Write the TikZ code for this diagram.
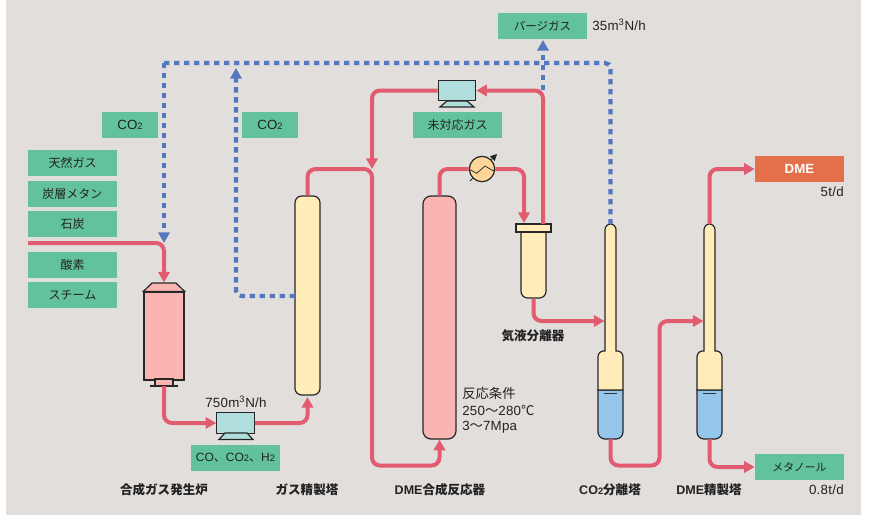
\documentclass[tikz,border=0pt]{standalone}
\usepackage{fontspec}
\setmainfont{Liberation Sans}
\newfontfamily\jp{Noto Sans CJK JP}
\newfontfamily\jpb{Noto Sans CJK JP Medium}
\usetikzlibrary{arrows.meta,calc}
\definecolor{bgc}{HTML}{E2DEDC}
\definecolor{gbx}{HTML}{62C29D}
\definecolor{redl}{HTML}{E05C6E}
\definecolor{bluel}{HTML}{5478C0}
\definecolor{yel}{HTML}{FFECB8}
\definecolor{pnk}{HTML}{FAB4B2}
\definecolor{tealc}{HTML}{B0DEDC}
\definecolor{org}{HTML}{E3704A}
\definecolor{liq}{HTML}{94C6EC}
\definecolor{htr}{HTML}{FFD69A}
\definecolor{ink}{HTML}{222222}
\newcommand{\subtwo}{{\fontsize{7pt}{7pt}\selectfont 2}}
\tikzset{
 gbox/.style={fill=gbx,minimum width=66.75pt,minimum height=19.5pt,inner sep=0pt,font=\fontsize{9pt}{10pt}\selectfont\jp,text=ink},
 cbox/.style={gbox,minimum width=42pt},
 lab/.style={inner sep=0pt,font=\fontsize{9.4pt}{10pt}\selectfont\bfseries,text=ink},
 note/.style={inner sep=0pt,font=\fontsize{10pt}{10pt}\selectfont\addfontfeature{LetterSpace=2},text=ink},
 redline/.style={draw=redl,line width=3pt,rounded corners=6pt},
 redarrow/.style={redline,-{Triangle[length=8pt,width=8.5pt]}},
 blueline/.style={draw=bluel,line width=3.2pt,dash pattern=on 4pt off 3.5pt,rounded corners=4pt},
 bluearrow/.style={blueline,-{Triangle[length=8pt,width=8.5pt,sep=0pt]}},
 vessel/.style={draw=black!85,line width=.9pt,inner sep=0pt},
 comp/.style={vessel,fill=tealc,minimum width=28pt,minimum height=15.2pt},
}
\begin{document}
\begin{tikzpicture}[x=0.75pt,y=-0.75pt]
\useasboundingbox (0,0) rectangle (869,515);
\fill[bgc] (6,0) rectangle (861,515);
% boxes
\node[gbox] (gas) at (72.5,163) {天然ガス};
\node[gbox] (cbm) at (72.5,194) {炭層メタン};
\node[gbox] (coal) at (72.5,224) {石炭};
\node[gbox] (oxy) at (72.5,265) {酸素};
\node[gbox] (steam) at (72.5,295) {スチーム};
\node[cbox] (co2a) at (130,125) {\fontsize{10pt}{10pt}\selectfont\rmfamily CO\subtwo};
\node[cbox] (co2b) at (270,125) {\fontsize{10pt}{10pt}\selectfont\rmfamily CO\subtwo};
\node[gbox] (syn) at (235.5,458) {\rmfamily CO{\jp 、}CO\subtwo{\jp 、}H\subtwo};
\node[gbox] (purge) at (542.5,26) {\fontsize{8.6pt}{10pt}\selectfont パージガス};
\node[gbox] (unr) at (457.5,125) {未対応ガス};
\node[gbox,fill=org,text=white] (dme) at (799.5,169) {\fontsize{10pt}{10pt}\selectfont\rmfamily\bfseries DME};
\node[gbox] (meoh) at (799.5,467) {\fontsize{8.2pt}{10pt}\selectfont メタノール};
% coordinates
\coordinate (ftop) at (164,282.5);
\coordinate (fbot) at (164,386);
\coordinate (capout) at (543,224);
\coordinate (feed) at (28,243);
\coordinate (tatop) at (610.5,224);
\coordinate (tabot) at (610.5,439);
\coordinate (tain) at (604.5,321);
\coordinate (tbtop) at (709.5,224);
\coordinate (tbbot) at (709.5,439);
\coordinate (tbin) at (703.5,321);
\coordinate (capin) at (524,223);
\coordinate (colin) at (307.5,397);
% vessels
\node[vessel,fill=pnk,minimum width=30pt,minimum height=66pt] (furn) at (164,336) {};
\filldraw[vessel,fill=pnk] (furn.north west) -- (152,283) -- (176,283) -- (furn.north east) -- cycle;
\filldraw[vessel,fill=pnk] (155,379) rectangle (173,386);
\draw[vessel] (150,386) -- (178,386);
\node[vessel,fill=yel,rounded corners=5pt,minimum width=18.75pt,minimum height=149.25pt] (col) at (307.5,295.5) {};
\node[vessel,fill=pnk,rounded corners=6pt,minimum width=24.75pt,minimum height=182.25pt] (reac) at (439.5,317.5) {};
\node[vessel,fill=yel,rounded corners=5pt,minimum width=18.75pt,minimum height=54pt] (sep) at (533.5,262) {};
\node[vessel,fill=yel,minimum width=26.25pt,minimum height=6pt] (cap) at (533.5,228) {};
% compressors
\node[comp] (c1) at (235.5,423) {};
\filldraw[vessel,fill=tealc] (225,433) -- (219,439.5) -- (253,439.5) -- (247,433) -- cycle;
\node[comp] (c2) at (457,90.5) {};
\filldraw[vessel,fill=tealc] (447,101) -- (440,107) -- (474,107) -- (467,101) -- cycle;
% tall towers
\foreach \cx in {610.5,709.5}{
 \filldraw[vessel,fill=liq] (\cx-12.5,390) -- (\cx+12.5,390) -- (\cx+12.5,432) to[out=-90,in=0] (\cx+5.5,439) -- (\cx-5.5,439) to[out=180,in=-90] (\cx-12.5,432) -- cycle;
 \filldraw[vessel,fill=yel] (\cx-5.5,351) -- (\cx-5.5,230) to[out=90,in=180] (\cx,224) to[out=0,in=90] (\cx+5.5,230) -- (\cx+5.5,351) -- (\cx+7,351) to[out=0,in=90] (\cx+12.5,357) -- (\cx+12.5,390) -- (\cx-12.5,390) -- (\cx-12.5,357) to[out=90,in=180] (\cx-7,351) -- cycle;
 \draw[black!80,line width=.6pt] (\cx-6.5,393) -- (\cx+6.5,393);
}
% heater
\node[vessel,circle,fill=htr,minimum size=19pt] (hx) at (482,169) {};
\draw[black!80,line width=.6pt] (hx.west) -- (476.7,173.3) -- (485,166) -- (493,170.7) -- (hx.east);
\coordinate (hxa) at (470,181);
\coordinate (hxb) at (497,154);
\draw[black!85,line width=.6pt] (hxa) -- (hx.south west);
\draw[black!85,line width=.6pt,-{Triangle[length=5pt,width=5pt]}] (hx.north east) -- (hxb);
% red pipes
\draw[redarrow] (feed) -| (ftop);
\draw[redarrow] (fbot) |- (c1.west);
\draw[redarrow] (c1.east) -| (colin);
\coordinate (jn) at (372,169);
\draw[redarrow] (c2.west) -| (jn);
\draw[redarrow] (col.north) |- (jn) -- (372,465.5) -| (reac.south);
\draw[redline] (reac.north) |- (hx.west);
\draw[redarrow] (hx.east) -| (capin);
\draw[redarrow] (capout) |- (c2.east);
\draw[redarrow] (sep.south) |- (tain);
\draw[redarrow] (tabot) |- (659.5,465.5) |- (tbin);
\draw[redarrow] (tbtop) |- (dme.west);
\draw[redarrow] (tbbot) |- (meoh.west);
% blue lines
\coordinate (bjn) at (164,63);
\coordinate (bup) at (236,68);
\coordinate (bleft) at (295,296);
\coordinate (ptop) at (543,40);
\coordinate (pbot) at (543,90);
\draw[bluearrow] (bjn) -- (164,243);
\draw[blueline] (bjn) -- (610.5,63) -- (tatop);
\draw[bluearrow] (bleft) -| (bup);
\draw[bluearrow] (pbot) -- (ptop);
% texts
\node[note,anchor=west] (rate1) at (205,402) {750m\textsuperscript{3}N/h};
\node[note,anchor=west] (rate2) at (592,25) {35m\textsuperscript{3}N/h};
\node[note,anchor=east] (dmerate) at (844,192) {5t/d};
\node[note,anchor=east] (merate) at (844,490) {0.8t/d};
\node[note,anchor=west] (c1t) at (462,393) {\jp 反応条件};
\node[note,anchor=west] (c2t) at (462,410) {250{\jp ～}280{\jp ℃}};
\node[note,anchor=west] (c3t) at (462,427) {3{\jp ～}7Mpa};
\node[lab] (l1) at (164,490) {\jpb 合成ガス発生炉};
\node[lab] (l2) at (307,490) {\jpb ガス精製塔};
\node[lab] (l3) at (440,490) {DME{\jpb 合成反応器}};
\node[lab] (l4) at (610,490) {CO\subtwo{\jpb 分離塔}};
\node[lab] (l5) at (709,490) {DME{\jpb 精製塔}};
\node[lab] (l6) at (533,336) {\jpb 気液分離器};
\end{tikzpicture}
\end{document}
